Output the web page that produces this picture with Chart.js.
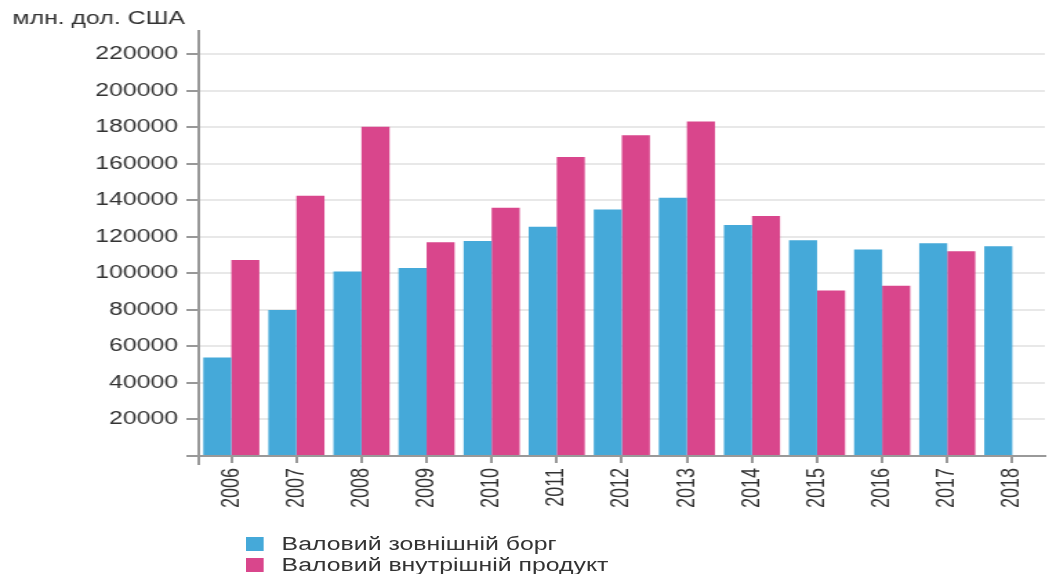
<!DOCTYPE html>
<html>
<head>
<meta charset="utf-8">
<script src="https://cdn.jsdelivr.net/npm/chart.js@4/dist/chart.umd.min.js"></script>
<style>
  html, body { margin: 0; padding: 0; background: #fff; }
  #wrap {
    position: absolute; left: 0; top: 0;
    width: 760px; height: 574px;
    transform: scaleX(1.3803); transform-origin: 0 0;
    font-family: "Liberation Sans", Arial, sans-serif;
  }
  .legend-row { position: absolute; left: 178px; height: 20px; font-size: 18px; color: #333; line-height: 20px; }
  .legend-row span.box { position: absolute; left: 0; top: 3px; width: 13px; height: 14px; }
  .legend-row span.lbl { position: absolute; left: 26px; top: 0; white-space: nowrap; }
</style>
</head>
<body>
<div id="wrap">
  <canvas id="chart" width="760" height="574"></canvas>
  <div id="legend"></div>
</div>
<script>
const YEARS = ['2006', '2007', '2008', '2009', '2010', '2011', '2012', '2013', '2014', '2015', '2016', '2017', '2018'];
// валовий зовнішній борг, млн. дол. США
const GROSS_DEBT = [54000, 80000, 101000, 103000, 117700, 125500, 135000, 141500, 126500, 118200, 113100, 116500, 114900];
// валовий внутрішній продукт, млн. дол. США
const GDP = [107400, 142500, 180300, 117100, 136000, 163800, 175700, 183200, 131500, 90600, 93300, 112200, null];
const SERIES_NAMES = ['Валовий зовнішній борг', 'Валовий внутрішній продукт'];
const COLOURS = ['#45a9d9', '#d9468c'];
const Y_TICKS = [0, 20000, 40000, 60000, 80000, 100000, 120000, 140000, 160000, 180000, 200000, 220000];
const Y_MAX = 233000;

const FONT = { family: '"Liberation Sans", Arial, sans-serif', size: 18 };
const AXIS = '#999';
const GRID = '#e8e8e8';
const TEXT = '#333';

// the y axis line runs a little past the x axis, as in the source chart
const axisTail = {
  id: 'axisTail',
  afterDraw(c) {
    const { ctx, chartArea } = c;
    ctx.save();
    ctx.strokeStyle = AXIS;
    ctx.lineWidth = 2;
    ctx.beginPath();
    ctx.moveTo(chartArea.left, chartArea.bottom);
    ctx.lineTo(chartArea.left, chartArea.bottom + 9);
    ctx.stroke();
    ctx.restore();
  },
};

const chart = new Chart(document.getElementById('chart'), {
  type: 'bar',
  data: {
    labels: YEARS,
    datasets: [
      { label: SERIES_NAMES[0], data: GROSS_DEBT, backgroundColor: COLOURS[0] },
      { label: SERIES_NAMES[1], data: GDP, backgroundColor: COLOURS[1] },
    ],
  },
  plugins: [axisTail],
  options: {
    responsive: false,
    animation: false,
    layout: { padding: { left: 9 } },
    datasets: { bar: { categoryPercentage: 0.862, barPercentage: 1 } },
    plugins: {
      legend: { display: false },
      tooltip: { enabled: false },
      title: {
        display: true,
        text: 'млн. дол. США',
        align: 'start',
        color: TEXT,
        font: { ...FONT, weight: 'normal' },
        padding: { top: 8, bottom: 1 },
      },
    },
    scales: {
      x: {
        grid: { drawOnChartArea: false, offset: false, tickColor: AXIS, tickLength: 7, lineWidth: 2 },
        border: { color: AXIS, width: 2 },
        ticks: { minRotation: 90, maxRotation: 90, padding: 5, color: TEXT, font: FONT },
        afterFit(scale) { scale.height = 118; },
      },
      y: {
        min: 0,
        max: Y_MAX,
        ticks: {
          padding: 6,
          color: TEXT,
          font: FONT,
          callback: (v) => (v === 0 ? '' : String(v)),
        },
        afterBuildTicks(scale) {
          scale.ticks = Y_TICKS.map((value) => ({ value }));
        },
        grid: {
          color: (ctx) => (ctx.tick && ctx.tick.value === 0 ? AXIS : GRID),
          tickColor: AXIS,
          tickLength: 9,
          lineWidth: 2,
        },
        border: { color: AXIS, width: 2 },
        afterFit(scale) { scale.width = 135; },
      },
    },
  },
});

// vertical legend under the chart
const legend = document.getElementById('legend');
chart.data.datasets.forEach((ds, i) => {
  const row = document.createElement('div');
  row.className = 'legend-row';
  row.style.top = (534 + i * 21) + 'px';
  row.innerHTML = `<span class="box" style="background:${ds.backgroundColor}"></span><span class="lbl">${ds.label}</span>`;
  legend.appendChild(row);
});
</script>
</body>
</html>
